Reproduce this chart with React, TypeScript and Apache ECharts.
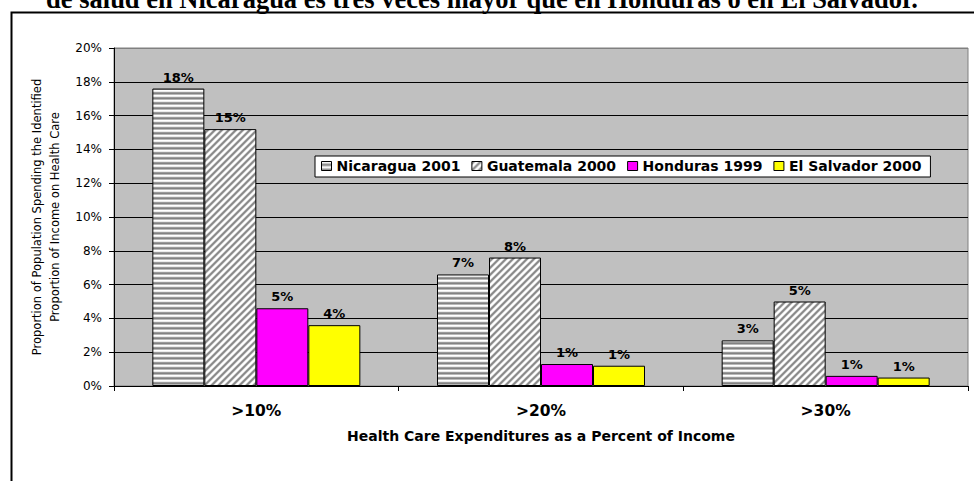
import React, { useEffect, useRef } from "react";
import * as echarts from "echarts";

const TITLE = "de salud en Nicaragua es tres veces mayor que en Honduras o en El Salvador.";
const Y_NAME = "Proportion of Population Spending the Identified\nProportion of Income on Health Care";
const X_NAME = "Health Care Expenditures as a Percent of Income";

const categories = [">10%", ">20%", ">30%"];
const seriesNames = ["Nicaragua 2001", "Guatemala 2000", "Honduras 1999", "El Salvador 2000"];
const nicaragua = [17.6, 6.6, 2.7];
const guatemala = [15.2, 7.6, 5.0];
const honduras = [4.6, 1.3, 0.6];
const elSalvador = [3.6, 1.2, 0.5];
const yMin = 0;
const yMax = 20;
const yStep = 2;

function makeTile(w: number, h: number, shade: (x: number, y: number) => number): string {
  const c = document.createElement("canvas");
  c.width = w;
  c.height = h;
  const ctx = c.getContext("2d")!;
  const img = ctx.createImageData(w, h);
  for (let y = 0; y < h; y++) {
    for (let x = 0; x < w; x++) {
      const v = shade(x, y);
      const i = (y * w + x) * 4;
      img.data[i] = v;
      img.data[i + 1] = v;
      img.data[i + 2] = v;
      img.data[i + 3] = 255;
    }
  }
  ctx.putImageData(img, 0, 0);
  return c.toDataURL();
}

export default function App() {
  const ref = useRef<HTMLDivElement>(null);

  useEffect(() => {
    if (!ref.current) return;
    const chart = echarts.init(ref.current, null, { renderer: "svg" });

    const hRows = [255, 235, 155, 130, 185];
    const hTile = makeTile(4, 5, (_x, y) => hRows[y % 5]);
    const dVals = [150, 135, 160, 230, 255, 255, 220];
    const dTile = makeTile(7, 7, (x, y) => dVals[(x + y) % 7]);

    const hPattern = { image: hTile, repeat: "repeat", imageWidth: 4, imageHeight: 5 };
    const dPattern = { image: dTile, repeat: "repeat", imageWidth: 7, imageHeight: 7 };

    const font = "DejaVu Sans";
    const colors: any[] = [hPattern, dPattern, "#ff00ff", "#ffff00"];
    const datasets = [nicaragua, guatemala, honduras, elSalvador];

    const splitColors: string[] = [];
    for (let v = yMin; v <= yMax; v += yStep) splitColors.push(v === yMax ? "#808080" : "#000000");

    const series = seriesNames.map((name, i) => ({
      name,
      type: "bar",
      data: datasets[i],
      barWidth: 52,
      barGap: "0%",
      itemStyle: { color: colors[i], borderColor: "#000", borderWidth: 1 },
      label: {
        show: true,
        position: "top",
        distance: 5,
        formatter: (p: any) => Math.round(p.value) + "%",
        fontFamily: font,
        fontWeight: "bold",
        fontSize: 13,
        color: "#000",
      },
    }));

    chart.setOption({
      animation: false,
      backgroundColor: "#ffffff",
      grid: {
        left: 114,
        right: 6,
        top: 48,
        bottom: 95,
        show: true,
        backgroundColor: "#c0c0c0",
        borderColor: "#808080",
        borderWidth: 1,
        outerBoundsMode: "none",
      },
      legend: {
        left: 315,
        top: 156,
        orient: "horizontal",
        backgroundColor: "#ffffff",
        borderColor: "#000",
        borderWidth: 1,
        padding: [3, 9, 4, 6],
        itemGap: 11,
        itemWidth: 10,
        itemHeight: 9,
        icon: "rect",
        itemStyle: { borderColor: "#000", borderWidth: 1 },
        textStyle: { fontFamily: font, fontWeight: "bold", fontSize: 14, color: "#000" },
        data: seriesNames,
      },
      xAxis: {
        type: "category",
        data: categories,
        axisLine: { show: true, lineStyle: { color: "#000", width: 1 } },
        axisTick: { show: true, length: 5, lineStyle: { color: "#000" } },
        axisLabel: {
          margin: 17,
          fontFamily: font,
          fontWeight: "bold",
          fontSize: 15.5,
          lineHeight: 16,
          color: "#000",
        },
        splitLine: { show: false },
        name: X_NAME,
        nameLocation: "middle",
        nameGap: 42,
        nameTextStyle: { fontFamily: font, fontWeight: "bold", fontSize: 14, lineHeight: 16, color: "#000" },
      },
      yAxis: {
        type: "value",
        min: yMin,
        max: yMax,
        interval: yStep,
        axisLine: { show: true, lineStyle: { color: "#000", width: 1 } },
        axisTick: { show: true, length: 5, lineStyle: { color: "#000" } },
        axisLabel: {
          formatter: "{value}%",
          margin: 12,
          fontFamily: font,
          fontSize: 12,
          color: "#000",
        },
        splitLine: { show: true, lineStyle: { color: splitColors, width: 1 } },
        name: Y_NAME,
        nameLocation: "middle",
        nameGap: 41,
        nameTextStyle: { fontFamily: font, fontSize: 11.5, lineHeight: 18, color: "#000", align: "center" },
      },
      series,
      graphic: [
        {
          type: "rect",
          shape: { x: 11.5, y: 12.5, width: 1000, height: 600 },
          style: { fill: "none", stroke: "#000", lineWidth: 2 },
          silent: true,
          z: 100,
        },
        {
          type: "text",
          x: 482,
          y: -1.5,
          style: {
            text: TITLE,
            fontFamily: "Liberation Serif",
            fontWeight: "bold",
            fontSize: 26.5,
            fill: "#000",
            align: "center",
            verticalAlign: "middle",
          },
          silent: true,
          z: 101,
        },
      ],
    });

    return () => {
      chart.dispose();
    };
  }, []);

  return (
    <div
      ref={ref}
      style={{ position: "absolute", left: 0, top: 0, width: 974, height: 481, background: "#fff" }}
    />
  );
}
